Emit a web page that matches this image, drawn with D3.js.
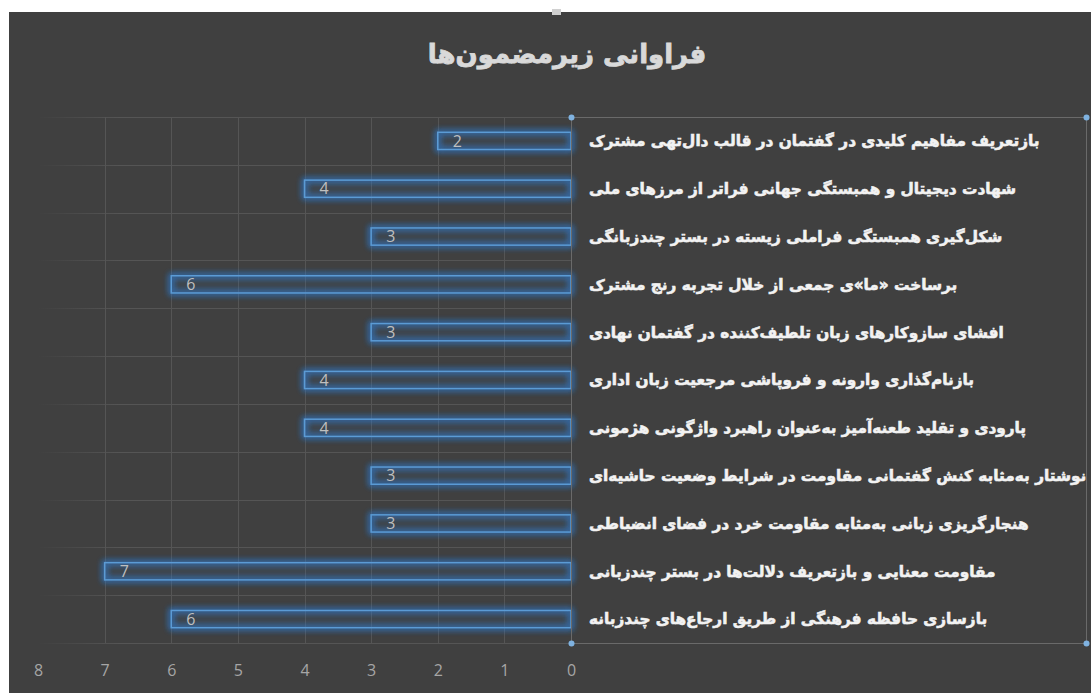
<!DOCTYPE html>
<html><head><meta charset="utf-8">
<script src="https://cdn.jsdelivr.net/npm/d3@7"></script>
<style>body{margin:0;background:#fff;}svg{display:block;}</style>
</head><body>
<svg id="c" width="1091" height="693"></svg>
<script>
const categories = [
  "بازتعریف مفاهیم کلیدی در گفتمان در قالب دال‌تهی مشترک",
  "شهادت دیجیتال و همبستگی جهانی فراتر از مرزهای ملی",
  "شکل‌گیری همبستگی فراملی زیسته در بستر چندزبانگی",
  "برساخت «ما»ی جمعی از خلال تجربه رنج مشترک",
  "افشای سازوکارهای زبان تلطیف‌کننده در گفتمان نهادی",
  "بازنام‌گذاری وارونه و فروپاشی مرجعیت زبان اداری",
  "پارودی و تقلید طعنه‌آمیز به‌عنوان راهبرد واژگونی هژمونی",
  "نوشتار به‌مثابه کنش گفتمانی مقاومت در شرایط وضعیت حاشیه‌ای",
  "هنجارگریزی زبانی به‌مثابه مقاومت خرد در فضای انضباطی",
  "مقاومت معنایی و بازتعریف دلالت‌ها در بستر چندزبانی",
  "بازسازی حافظه فرهنگی از طریق ارجاع‌های چندزبانه"
];
const values = [2, 4, 3, 6, 3, 4, 4, 3, 3, 7, 6];
const ticks = [0, 1, 2, 3, 4, 5, 6, 7, 8];
const title = "فراوانی زیرمضمون‌ها";

const svg = d3.select("#c");
const W = 1091, H = 693;
const plotTop = 117, plotBottom = 643, x0 = 571, x8 = 38, frameRight = 1086;

// background
svg.append("rect").attr("x", 9).attr("y", 12).attr("width", W - 9).attr("height", H - 12).attr("fill", "#404040");

const defs = svg.append("defs");
const f = defs.append("filter").attr("id", "glow").attr("x", "-20%").attr("y", "-60%").attr("width", "140%").attr("height", "220%");
f.append("feGaussianBlur").attr("in", "SourceGraphic").attr("stdDeviation", 3).attr("result", "b");
const m = f.append("feMerge");
m.append("feMergeNode").attr("in", "b");
m.append("feMergeNode").attr("in", "b");

const grad = defs.append("linearGradient").attr("id", "fade").attr("gradientUnits", "userSpaceOnUse")
  .attr("x1", x8).attr("x2", 120).attr("y1", 0).attr("y2", 0);
grad.append("stop").attr("offset", 0).attr("stop-color", "#555").attr("stop-opacity", 0);
grad.append("stop").attr("offset", 1).attr("stop-color", "#555").attr("stop-opacity", 1);

const x = d3.scaleLinear().domain([0, 8]).range([x0, x8]);
const y = d3.scaleBand().domain(categories).range([plotTop, plotBottom]).paddingInner(0.64).paddingOuter(0.32);
const step = y.step();

// vertical gridlines
svg.append("g").selectAll("line").data(ticks.filter(t => t > 0 && t < 8)).join("line")
  .attr("x1", d => Math.round(x(d)) + 0.5).attr("x2", d => Math.round(x(d)) + 0.5)
  .attr("y1", plotTop).attr("y2", plotBottom)
  .attr("stroke", "#555").attr("stroke-width", 1);

// horizontal gridlines
svg.append("g").selectAll("line").data(d3.range(categories.length + 1)).join("line")
  .attr("x1", x8).attr("x2", x0)
  .attr("y1", i => Math.round(plotTop + i * step) + 0.5).attr("y2", i => Math.round(plotTop + i * step) + 0.5)
  .attr("stroke", "url(#fade)").attr("stroke-width", 1);

// frame of label area
svg.append("rect").attr("x", x0 + 0.5).attr("y", plotTop + 0.5).attr("width", frameRight - x0).attr("height", plotBottom - plotTop)
  .attr("fill", "none").attr("stroke", "#6a6a6a").attr("stroke-width", 1);

// bars glow
const bars = svg.append("g");
bars.selectAll("rect.g").data(values).join("rect").attr("class", "g")
  .attr("x", d => x(d)).attr("y", (d, i) => y(categories[i]))
  .attr("width", d => x0 - x(d)).attr("height", y.bandwidth())
  .attr("fill", "none").attr("stroke", "#2f7ed8").attr("stroke-width", 3.5).attr("opacity", 0.7)
  .attr("filter", "url(#glow)");
bars.selectAll("rect.b").data(values).join("rect").attr("class", "b")
  .attr("x", d => x(d)).attr("y", (d, i) => y(categories[i]))
  .attr("width", d => x0 - x(d)).attr("height", y.bandwidth())
  .attr("fill", "rgba(70,120,180,0.10)").attr("stroke", "#5b9bd5").attr("stroke-width", 1.5);

// data labels
svg.append("g").selectAll("text").data(values).join("text")
  .attr("x", d => x(d) + 15).attr("y", (d, i) => y(categories[i]) + y.bandwidth() / 2)
  .attr("dy", "0.36em").attr("fill", "#bfbfbf")
  .attr("font-family", "'Open Sans', 'DejaVu Sans', sans-serif").attr("font-size", 16)
  .text(d => d);

// y axis line
svg.append("line").attr("x1", x0 + 0.5).attr("x2", x0 + 0.5).attr("y1", plotTop).attr("y2", plotBottom)
  .attr("stroke", "#6a6a6a");

// x axis ticks
const ax = svg.append("g").attr("transform", `translate(0,${plotBottom})`)
  .call(d3.axisBottom(x).tickValues(ticks).tickFormat(d3.format("d")).tickSize(0).tickPadding(22));
ax.select(".domain").remove();
ax.selectAll("text").attr("fill", "#a6a6a6").attr("font-size", 16)
  .attr("font-family", "'Open Sans', 'DejaVu Sans', sans-serif");

// category labels
svg.append("g").selectAll("text").data(categories).join("text")
  .attr("x", 589).attr("y", d => y(d) + y.bandwidth() / 2)
  .attr("dy", "0.35em").attr("direction", "rtl").attr("text-anchor", "end")
  .attr("fill", "#f2f2f2").attr("stroke", "#f2f2f2").attr("stroke-width", 0.6)
  .attr("font-weight", "bold")
  .attr("font-family", "'DejaVu Sans', sans-serif").attr("font-size", 15.3)
  .text(d => d);

// title
svg.append("text").attr("x", 567).attr("y", 63).attr("text-anchor", "middle").attr("direction", "rtl")
  .attr("fill", "#d9d9d9").attr("stroke", "#d9d9d9").attr("stroke-width", 0.8)
  .attr("font-weight", "bold")
  .attr("font-family", "'DejaVu Sans', sans-serif").attr("font-size", 26)
  .text(title);

// selection handles
const handles = [[x0, plotTop], [frameRight, plotTop], [x0, plotBottom], [frameRight, plotBottom]];
svg.append("g").selectAll("circle").data(handles).join("circle")
  .attr("cx", d => d[0] + 0.5).attr("cy", d => d[1] + 0.5).attr("r", 3)
  .attr("fill", "#7fb2e0");
svg.append("rect").attr("x", 3).attr("y", 347).attr("width", 6).attr("height", 9).attr("fill", "#ffffff");
svg.append("rect").attr("x", 552).attr("y", 9).attr("width", 9).attr("height", 6).attr("fill", "#d0d0d0");
</script>
</body></html>
